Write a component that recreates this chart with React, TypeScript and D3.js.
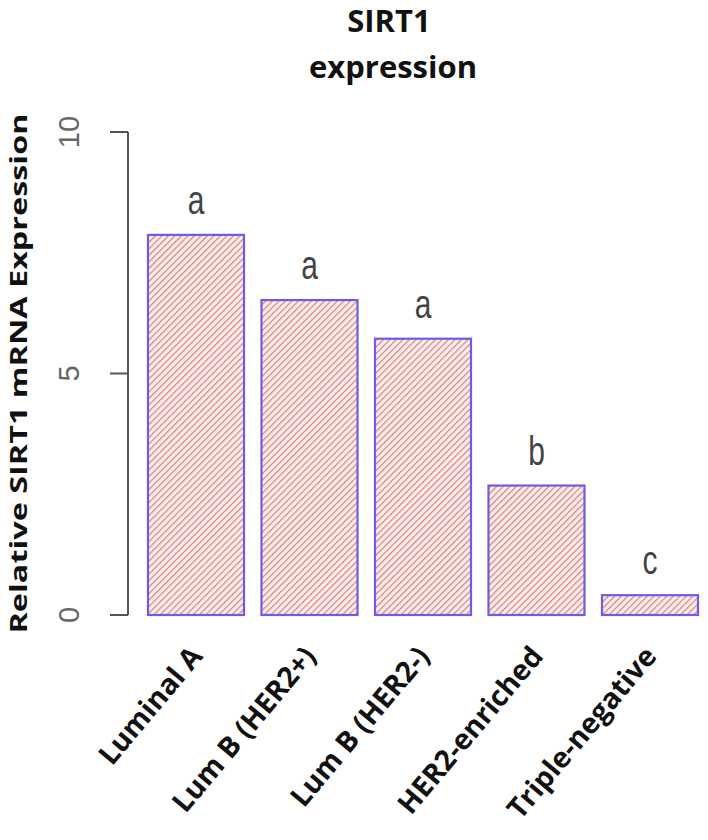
import React from 'react'
import * as d3 from 'd3'

const categories = ['Luminal A', 'Lum B (HER2+)', 'Lum B (HER2-)', 'HER2-enriched', 'Triple-negative']
const values = [7.87, 6.52, 5.72, 2.68, 0.41]
const groups = ['a', 'a', 'a', 'b', 'c']
const yTicks = [0, 5, 10]

const width = 708
const height = 840

export default function App() {
    const x = d3.scaleBand<string>().domain(categories).range([148, 698]).paddingInner(0.154).paddingOuter(0)
    const y = d3.scaleLinear().domain([0, 10]).range([615, 132])

    const axisX = 128

    return (
        <svg width={width} height={height} style={{ position: 'absolute', left: 0, top: 0, background: 'white' }}>
            <defs>
                <pattern id="hatch" patternUnits="userSpaceOnUse" width="4.6" height="4.6" patternTransform="rotate(45)">
                    <rect width="4.6" height="4.6" fill="#fcefed" />
                    <line x1="0" y1="0" x2="0" y2="4.6" stroke="#e47c76" strokeWidth="2.4" />
                </pattern>
            </defs>

            {/* title */}
            <text x={389} y={32} textAnchor="middle" fontFamily="Open Sans" fontWeight="bold" fontSize={31} fill="#111">SIRT1</text>
            <text x={393} y={78} textAnchor="middle" fontFamily="Open Sans" fontWeight="bold" fontSize={31} fill="#111">expression</text>

            {/* y axis */}
            <line x1={axisX} x2={axisX} y1={y(10)} y2={y(0)} stroke="#555" strokeWidth={2} />
            {yTicks.map(t => (
                <g key={t}>
                    <line x1={axisX - 18} x2={axisX} y1={y(t)} y2={y(t)} stroke="#555" strokeWidth={2} />
                    <text transform={`translate(79,${y(t)}) rotate(-90)`} textAnchor="middle" fontFamily="Liberation Sans" fontSize={29} fill="#666">{t}</text>
                </g>
            ))}
            <text transform={`translate(27,${y(5)}) rotate(-90)`} textAnchor="middle" fontFamily="Open Sans" fontWeight="bold" fontSize={24}
                textLength={520} lengthAdjust="spacingAndGlyphs" fill="#111">Relative SIRT1 mRNA Expression</text>

            {/* bars */}
            {categories.map((c, i) => {
                const cx = (x(c) as number) + x.bandwidth() / 2
                return (
                    <g key={c}>
                        <rect x={x(c)} y={y(values[i])} width={x.bandwidth()} height={y(0) - y(values[i])}
                            fill="url(#hatch)" stroke="#6c5ce8" strokeWidth={2.2} />
                        <text transform={`translate(${cx},${y(values[i]) - 21}) scale(1,1.35)`} textAnchor="middle"
                            fontFamily="Liberation Sans" fontSize={30} fill="#444">{groups[i]}</text>
                        <text transform={`translate(${cx + 8},657) rotate(-50)`} textAnchor="end"
                            fontFamily="Open Sans" fontWeight="bold" fontSize={28.5} fill="#111">{c}</text>
                    </g>
                )
            })}
        </svg>
    )
}
